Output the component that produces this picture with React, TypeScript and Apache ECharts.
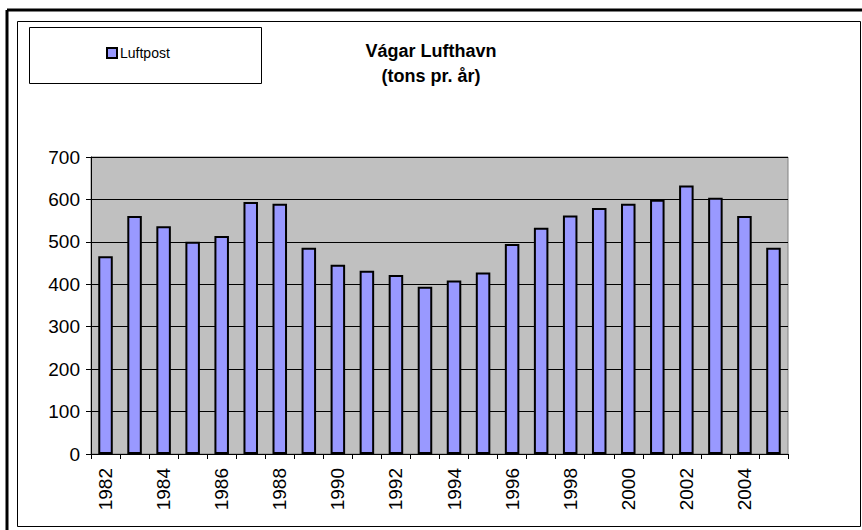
import React, { useEffect, useRef } from "react";
import * as echarts from "echarts";

const years = [
  "1982", "1983", "1984", "1985", "1986", "1987", "1988", "1989", "1990", "1991", "1992", "1993",
  "1994", "1995", "1996", "1997", "1998", "1999", "2000", "2001", "2002", "2003", "2004", "2005",
];
const luftpost = [
  466, 561, 537, 500, 514, 594, 590, 486, 446, 432, 422, 394,
  409, 428, 495, 533, 562, 580, 590, 599, 633, 604, 561, 486,
];
const seriesName = "Luftpost";
const titleLines = ["Vágar Lufthavn", "(tons pr. år)"];

const FONT = "'Liberation Sans', Arial, sans-serif";

export default function App() {
  const ref = useRef<HTMLDivElement>(null);
  useEffect(() => {
    if (!ref.current) return;
    const chart = echarts.init(ref.current, undefined, { renderer: "svg" });
    chart.setOption({
      animation: false,
      backgroundColor: "#ffffff",
      textStyle: { fontFamily: FONT },
      title: {
        text: titleLines.join("\n"),
        left: 431,
        textAlign: "center",
        top: 38,
        padding: 0,
        textStyle: {
          fontFamily: FONT,
          fontSize: 18,
          fontWeight: "bold",
          color: "#000",
          lineHeight: 25,
        },
      },
      legend: {
        left: 106,
        top: 46,
        padding: 0,
        itemWidth: 10,
        itemHeight: 10,
        itemGap: 4,
        icon: "rect",
        textStyle: { fontFamily: FONT, fontSize: 14, color: "#000", padding: [0, 0, 0, -2] },
        data: [seriesName],
      },
      graphic: [
        {
          type: "line",
          shape: { x1: 7, y1: 10, x2: 862, y2: 10 },
          style: { stroke: "#000", lineWidth: 3 },
          silent: true,
        },
        {
          type: "line",
          shape: { x1: 7, y1: 10, x2: 7, y2: 530 },
          style: { stroke: "#000", lineWidth: 3 },
          silent: true,
        },
        {
          type: "rect",
          shape: { x: 17.5, y: 21.5, width: 843, height: 505 },
          style: { fill: "none", stroke: "#000", lineWidth: 1 },
          silent: true,
        },
        {
          type: "rect",
          shape: { x: 29.5, y: 27.5, width: 232, height: 56 },
          style: { fill: "none", stroke: "#000", lineWidth: 1 },
          silent: true,
        },
      ],
      grid: {
        left: 91,
        top: 157,
        right: 74,
        bottom: 76,
        show: true,
        backgroundColor: "#C0C0C0",
        borderColor: "#808080",
        borderWidth: 1,
        containLabel: false,
      },
      xAxis: {
        type: "category",
        data: years,
        axisLine: { show: true, lineStyle: { color: "#000", width: 1 } },
        axisTick: { show: true, interval: 0, length: 5, lineStyle: { color: "#000" } },
        axisLabel: {
          interval: 1,
          rotate: 90,
          fontSize: 19,
          color: "#000",
          fontFamily: FONT,
          margin: 14,
        },
        splitLine: { show: false },
      },
      yAxis: {
        type: "value",
        min: 0,
        max: 700,
        interval: 100,
        axisLine: { show: true, lineStyle: { color: "#000", width: 1 } },
        axisTick: { show: true, length: 5, lineStyle: { color: "#000" } },
        axisLabel: { fontSize: 19, color: "#000", fontFamily: FONT, margin: 11 },
        splitLine: { show: true, lineStyle: { color: "#000", width: 1 } },
      },
      series: [
        {
          name: seriesName,
          type: "bar",
          data: luftpost,
          barCategoryGap: "50%",
          itemStyle: { color: "#9999FF", borderColor: "#000", borderWidth: 2 },
        },
      ],
    });
    return () => chart.dispose();
  }, []);
  return (
    <div
      ref={ref}
      style={{ position: "absolute", left: 0, top: 0, width: 862, height: 530 }}
    />
  );
}
